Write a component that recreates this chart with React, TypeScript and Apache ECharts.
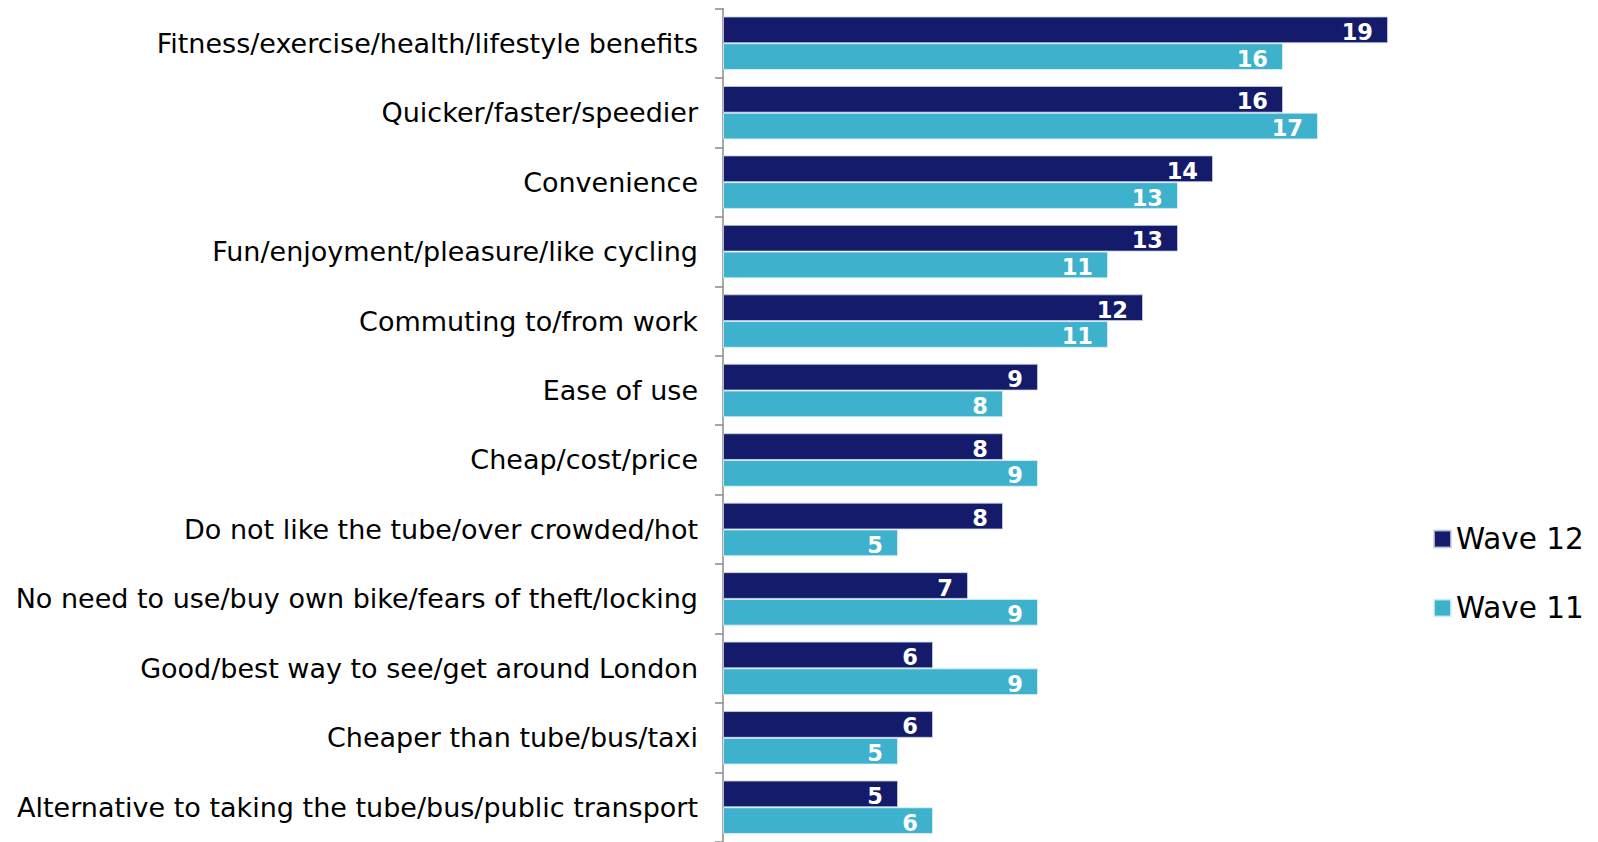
import React, { useEffect, useRef } from "react";
import * as echarts from "echarts";

const categories = [
  "Fitness/exercise/health/lifestyle benefits",
  "Quicker/faster/speedier",
  "Convenience",
  "Fun/enjoyment/pleasure/like cycling",
  "Commuting to/from work",
  "Ease of use",
  "Cheap/cost/price",
  "Do not like the tube/over crowded/hot",
  "No need to use/buy own bike/fears of theft/locking",
  "Good/best way to see/get around London",
  "Cheaper than tube/bus/taxi",
  "Alternative to taking the tube/bus/public transport",
];
const wave12 = [19, 16, 14, 13, 12, 9, 8, 8, 7, 6, 6, 5];
const wave11 = [16, 17, 13, 11, 11, 8, 9, 5, 9, 9, 5, 6];
const seriesNames = ["Wave 12", "Wave 11"];
const colors = ["#141b6a", "#3eb1cd"];

export default function App() {
  const ref = useRef<HTMLDivElement>(null);
  useEffect(() => {
    if (!ref.current) return;
    const chart = echarts.init(ref.current, undefined, { renderer: "svg" });
    const label = {
      show: true,
      position: "insideRight",
      distance: 15,
      offset: [0, 2],
      color: "#ffffff",
      fontWeight: "bold",
      fontSize: 22.5,
      fontFamily: "DejaVu Sans",
    };
    chart.setOption({
      animation: false,
      backgroundColor: "#ffffff",
      grid: { left: 723, right: 0, top: 8.5, bottom: -4.3, containLabel: false },
      legend: {
        orient: "vertical",
        left: 1428,
        top: 519,
        itemWidth: 17,
        itemHeight: 17,
        itemGap: 39,
        icon: "rect",
        data: seriesNames,
        textStyle: {
          fontFamily: "DejaVu Sans",
          fontSize: 29.5,
          lineHeight: 29.5,
          color: "#000000",
          padding: [0, 0, 0, 0],
        },
      },
      xAxis: { type: "value", min: 0, max: 25, show: false },
      yAxis: {
        type: "category",
        inverse: true,
        data: categories,
        axisLine: { show: true, lineStyle: { color: "#8a8a8a", width: 1.5 } },
        axisTick: { show: true, length: 8, lineStyle: { color: "#8a8a8a", width: 1.5 } },
        axisLabel: {
          margin: 25,
          fontFamily: "DejaVu Sans",
          fontSize: 27,
          color: "#000000",
          padding: [4, 0, 0, 0],
        },
        splitLine: { show: false },
      },
      series: [
        {
          name: seriesNames[0],
          type: "bar",
          data: wave12,
          barGap: 0,
          barCategoryGap: "23%",
          itemStyle: { color: colors[0], borderColor: "rgba(200,210,230,0.8)", borderWidth: 1 },
          label,
        },
        {
          name: seriesNames[1],
          type: "bar",
          data: wave11,
          barGap: 0,
          barCategoryGap: "23%",
          itemStyle: { color: colors[1], borderColor: "rgba(220,240,250,0.8)", borderWidth: 1 },
          label,
        },
      ],
    });
    return () => chart.dispose();
  }, []);
  return (
    <div
      ref={ref}
      style={{ position: "absolute", left: 0, top: 0, width: 1598, height: 842 }}
    />
  );
}
